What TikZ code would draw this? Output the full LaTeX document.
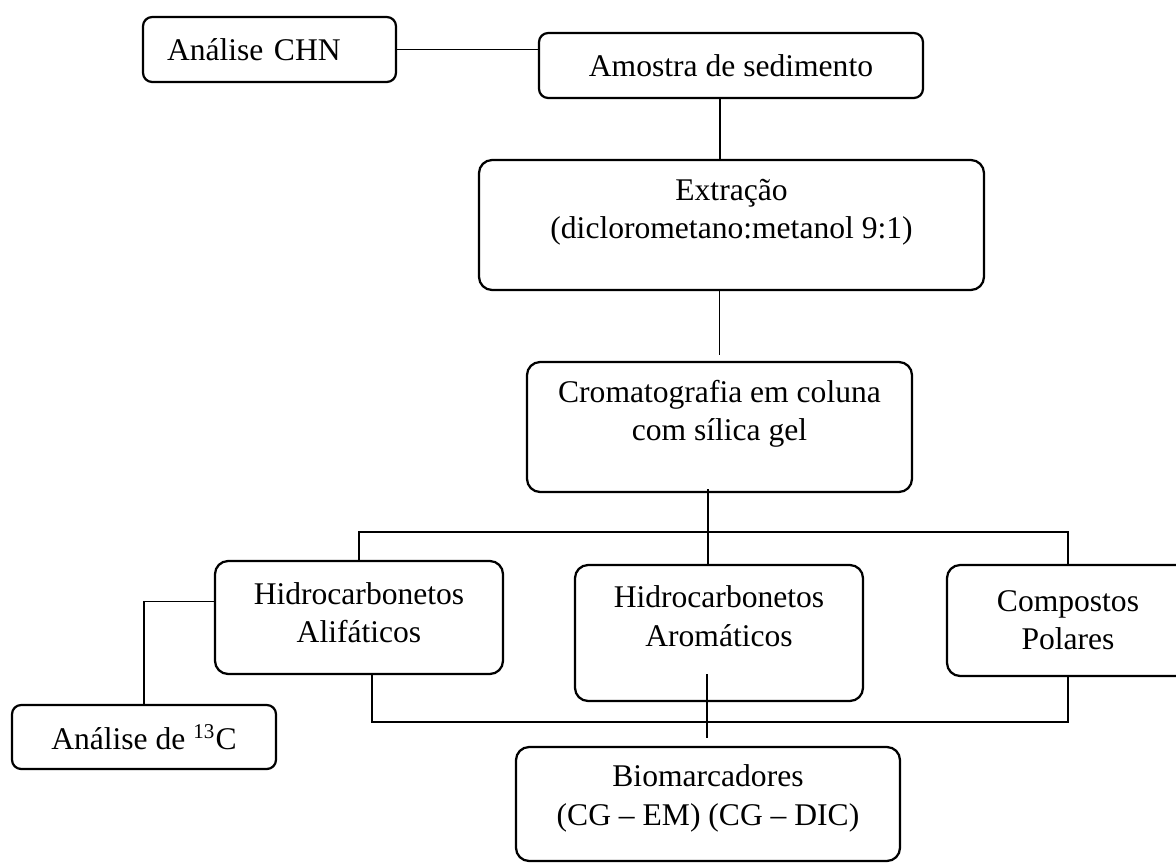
\documentclass[tikz,border=0pt]{standalone}
\usepackage{fontspec}
\setmainfont{Liberation Serif}
\usetikzlibrary{positioning, calc}
\newlength{\pxu}
\setlength{\pxu}{0.38pt}
\tikzset{
  box/.style  = {draw, line width=0.85pt, rounded corners=5pt, fill=white,
                 align=center, inner sep=2pt,
                 font=\fontsize{12pt}{14.5pt}\selectfont},
  sbox/.style = {box, rounded corners=3.5pt},
  link/.style = {line width=0.65pt},
}

\begin{document}
\begin{tikzpicture}[x=0.38pt, y=-0.38pt]
  \clip (0,0) rectangle (1176,863);
  \node[sbox, minimum width=384\pxu, minimum height=65\pxu] (amostra) at (731,65.5) {Amostra de sedimento};
  \node[sbox, text width=205\pxu, inner xsep=24\pxu, align=left, minimum height=65\pxu] (chn) at (269.5,49.5) {Análise CHN};
  \node[box, minimum width=505\pxu, minimum height=130\pxu, text depth=12.1pt] (extracao) at (731.5,225)
    {Extração\\(diclorometano:metanol 9:1)};
  \node[box, minimum width=385\pxu, minimum height=130\pxu, text depth=12.5pt] (croma) at (719.5,427)
    {Cromatografia em coluna\\com sílica gel};
  \node[box, minimum width=288\pxu, minimum height=113\pxu, text depth=3.8pt] (alif) at (359,617.5)
    {Hidrocarbonetos\\Alifáticos};
  \node[box, minimum width=288\pxu, minimum height=136\pxu, text depth=12.9pt] (arom) at (719,633)
    {Hidrocarbonetos\\Aromáticos};
  \node[box, minimum width=242\pxu, minimum height=111\pxu] (comp) at (1068,620.5)
    {Compostos\\Polares};
  \node[sbox, minimum width=264\pxu, minimum height=64\pxu] (c13) at (144,737)
    {Análise de \textsuperscript{13}C};
  \node[box, minimum width=384\pxu, minimum height=114\pxu, text depth=6.8pt] (bio) at (708,804)
    {Biomarcadores\\(CG -- EM) (CG -- DIC)};

  \coordinate (tbar) at (708,532);
  \coordinate (bbar) at (707,722);
  \coordinate (a1) at ($(amostra.south)+(-11,0)$);
  \coordinate (a2) at ($(alif.south)+(13,0)$);
  \draw[link] (chn.east) -- (chn.east -| amostra.west);
  \draw[link] (a1) -- (a1 |- extracao.north);
  \draw[link] (extracao.south -| croma.north) -- ($(croma.north)+(0,-6)$);
  \draw[link] ($(croma.south)+(-11.5,-4)$) -- (tbar) -- (tbar |- arom.north);
  \draw[link] (alif.north) |- (tbar) -| (comp.north);
  \draw[link] (a2) |- (bbar) -| (comp.south);
  \draw[link] ($(arom.south)+(-12,-28)$) -- (bbar) -- ($(bio.north)+(-1,-8)$);
  \draw[link] ($(alif.west)+(0,-16)$) -| (c13.north);
\end{tikzpicture}
\end{document}
